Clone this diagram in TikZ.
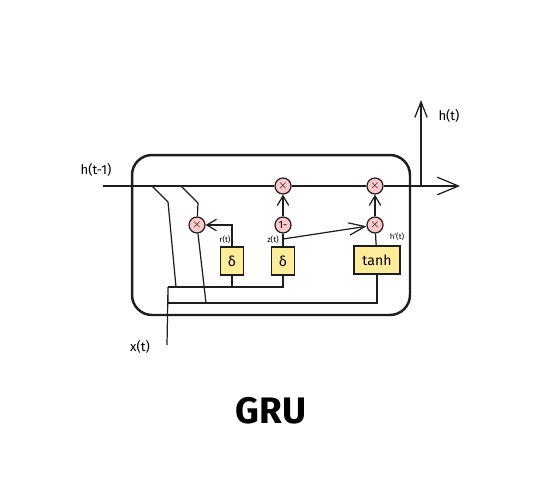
\documentclass[tikz,border=0pt]{standalone}
\usepackage{fontspec}
\setmainfont{Fira Sans}
\usepackage{tikz}
\usetikzlibrary{arrows.meta, positioning, calc}
\definecolor{inkdark}{HTML}{1E1E1E}
\definecolor{multpink}{HTML}{FFC9C9}
\definecolor{gateyellow}{HTML}{FFEC99}

\begin{document}
\begin{tikzpicture}[x=0.02cm, y=-0.02cm,
    line width=0.7pt, draw=inkdark,
    >={Straight Barb[length=5.5pt, width=6.5pt, line width=0.7pt]},
    bigtip/.style={-{Straight Barb[length=12pt, width=10pt, line width=0.7pt]}},
    midtip/.style={-{Straight Barb[length=9pt, width=7pt, line width=0.7pt]}},
    cell/.style={draw=inkdark, line width=1.4pt, rounded corners=0.4cm,
                 minimum width=5.56cm, minimum height=3.2cm},
    mult/.style={circle, draw=inkdark, fill=multpink, minimum size=0.32cm,
                 inner sep=0pt, font=\fontsize{6}{6}\selectfont},
    gatebox/.style={draw=inkdark, fill=gateyellow, minimum width=0.46cm,
                    minimum height=0.56cm, inner sep=1pt,
                    font=\fontsize{8}{8}\selectfont},
    tinylabel/.style={inner sep=0pt, font=\fontsize{4.5}{5}\selectfont},
    sidelabel/.style={inner sep=0pt, font=\fontsize{7.5}{8}\selectfont}]
    \useasboundingbox (0,0) rectangle (550,498);
    % Cell outline
    \node[cell] (cell) at (271,235) {};
    % Multipliers and gates
    \node[mult] (m1) at (283,186) {$\times$};
    \node[mult] (m2) at (375,186) {$\times$};
    \node[mult] (mr) at (197,225) {$\times$};
    \node[mult] (om) at (283,225) {1-};
    \node[mult] (mh) at (375,225) {$\times$};
    \node[gatebox] (sr) at (232,261) {δ};
    \node[gatebox] (sz) at (283,261) {δ};
    \node[gatebox, minimum width=0.92cm] (tb) at (377,260) {tanh};
    % End points
    \coordinate (hin) at (103,186);
    \coordinate (hout) at (460,186);
    \coordinate (hsplit) at (421,186);
    \coordinate (hup) at (421,100);
    \coordinate (xin) at (167,345);
    \coordinate (zt) at (283,239);
    % Hidden state line
    \draw[bigtip] (hin) -- (m1) -- (m2) -- (hout);
    \draw[midtip] (hsplit) -- (hup);
    % Taps off h(t-1)
    \draw (152,186) -- (168,202) -- (176,287);
    \draw (181,186) -- (198,203) -- (mr);
    \draw (mr) -- (206,303);
    % Input buses
    \draw (xin) -- (168,287) -- (168,303);
    \draw (168,287) -- (283,287) -- (sz);
    \draw (sr) -- (232,287);
    \draw (168,303) -- (377,303) -- (tb);
    % Gate outputs
    \draw[->] (sr.north) |- (mr);
    \draw (sz) -- (om);
    \draw[->] (om) -- (m1);
    \draw[midtip] (zt) -- (mh);
    \draw (tb) -- (mh);
    \draw[->] (mh) -- (m2);
    % Labels
    \node[sidelabel] (lhin) at (96,170) {h(t-1)};
    \node[sidelabel] (lhout) at (449,116) {h(t)};
    \node[sidelabel] (lxin) at (140,347) {x(t)};
    \node[tinylabel] (lr) at (225,240) {r(t)};
    \node[tinylabel] (lz) at (273,240) {z(t)};
    \node[tinylabel] (lh) at (397,237) {h'(t)};
    % Title
    \node[font=\fontsize{21}{24}\selectfont\bfseries] (title) at (271,411) {GRU};
\end{tikzpicture}
\end{document}
